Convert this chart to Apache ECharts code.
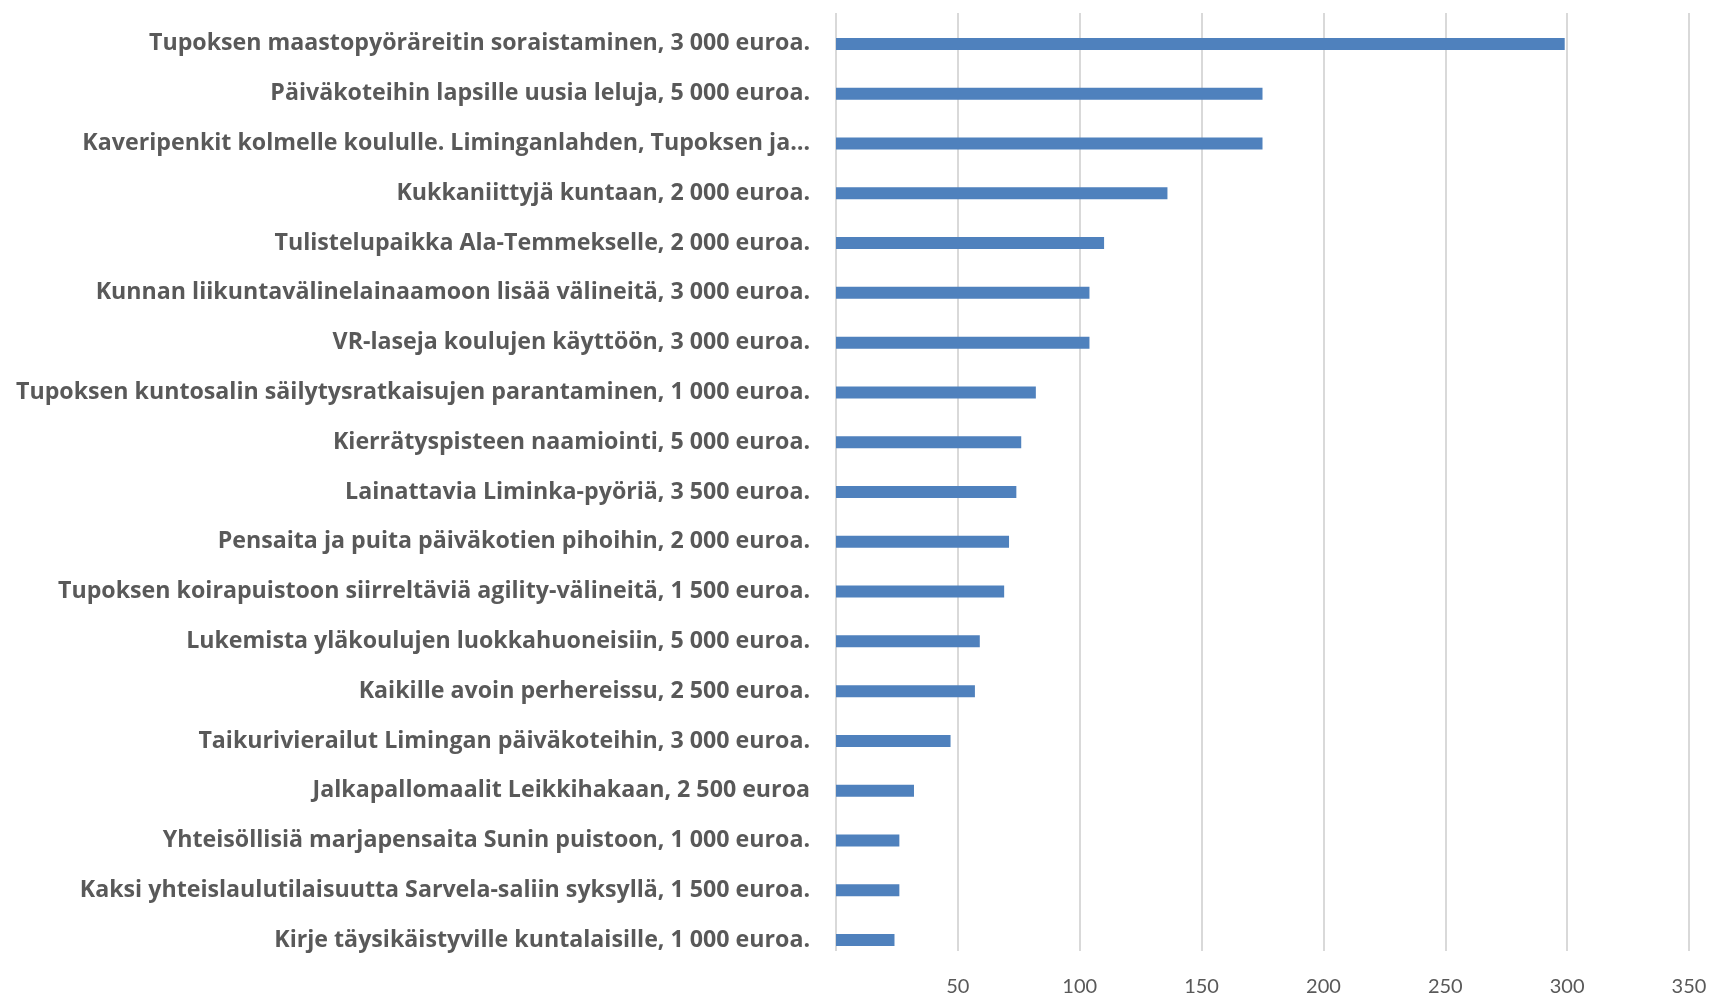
<!DOCTYPE html>
<html><head><meta charset="utf-8">
<script src="https://cdn.jsdelivr.net/npm/echarts@6/dist/echarts.min.js"></script>
<style>html,body{margin:0;padding:0;background:#fff}#c{width:1711px;height:997px}</style>
</head><body><div id="c"></div>
<script>
const categories = [
  "Tupoksen maastopyöräreitin soraistaminen, 3 000 euroa.",
  "Päiväkoteihin lapsille uusia leluja, 5 000 euroa.",
  "Kaveripenkit kolmelle koululle. Liminganlahden, Tupoksen ja…",
  "Kukkaniittyjä kuntaan, 2 000 euroa.",
  "Tulistelupaikka Ala-Temmekselle, 2 000 euroa.",
  "Kunnan liikuntavälinelainaamoon lisää välineitä, 3 000 euroa.",
  "VR-laseja koulujen käyttöön, 3 000 euroa.",
  "Tupoksen kuntosalin säilytysratkaisujen parantaminen, 1 000 euroa.",
  "Kierrätyspisteen naamiointi, 5 000 euroa.",
  "Lainattavia Liminka-pyöriä, 3 500 euroa.",
  "Pensaita ja puita päiväkotien pihoihin, 2 000 euroa.",
  "Tupoksen koirapuistoon siirreltäviä agility-välineitä, 1 500 euroa.",
  "Lukemista yläkoulujen luokkahuoneisiin, 5 000 euroa.",
  "Kaikille avoin perhereissu, 2 500 euroa.",
  "Taikurivierailut Limingan päiväkoteihin, 3 000 euroa.",
  "Jalkapallomaalit Leikkihakaan, 2 500 euroa",
  "Yhteisöllisiä marjapensaita Sunin puistoon, 1 000 euroa.",
  "Kaksi yhteislaulutilaisuutta Sarvela-saliin syksyllä, 1 500 euroa.",
  "Kirje täysikäistyville kuntalaisille, 1 000 euroa."
];
const votes = [299,175,175,136,110,104,104,82,76,74,71,69,59,57,47,32,26,26,24];
const axisMin = 0, axisMax = 350, axisStep = 50;

const chart = echarts.init(document.getElementById('c'), null, {renderer:'canvas'});
chart.setOption({
  animation: false,
  backgroundColor: '#ffffff',
  grid: [
    {left: 836, right: 22, top: 19, bottom: 32},
    {left: 836, right: 22, top: 13, bottom: 39}
  ],
  xAxis: [
    {gridIndex: 0, type: 'value', min: axisMin, max: axisMax, interval: axisStep, show: false},
    {gridIndex: 1, type: 'value', min: axisMin, max: axisMax, interval: axisStep,
     axisLine: {show: false}, axisTick: {show: false},
     splitLine: {show: true, lineStyle: {color: '#d9d9d9', width: 2}},
     axisLabel: {color: '#595959', fontFamily: 'Lato', fontSize: 20, margin: 26,
       formatter: v => v === 0 ? '' : String(v)}}
  ],
  yAxis: [
    {gridIndex: 0, type: 'category', data: categories, inverse: true,
     axisLine: {show: false}, axisTick: {show: false},
     axisLabel: {color: '#595959', fontFamily: 'Open Sans', fontWeight: 'bold', fontSize: 23.2, margin: 26}},
    {gridIndex: 1, type: 'value', show: false}
  ],
  series: [{
    type: 'bar', xAxisIndex: 0, yAxisIndex: 0, data: votes, barWidth: 12,
    itemStyle: {color: '#4f81bd'}
  }]
});
</script></body></html>
